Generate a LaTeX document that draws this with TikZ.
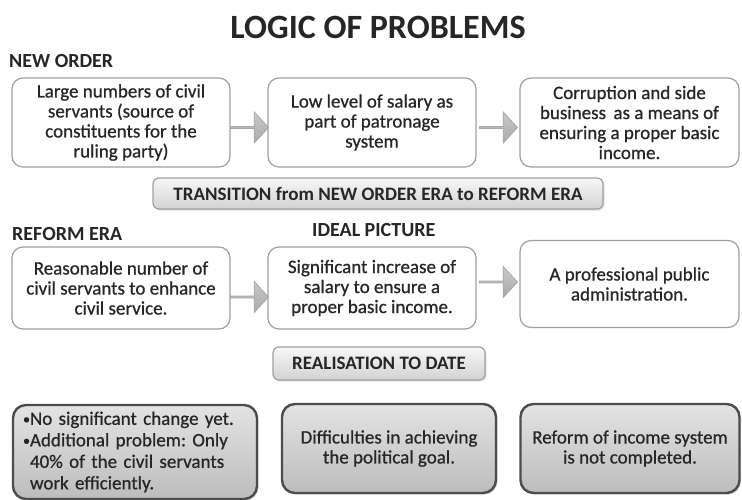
\documentclass[tikz,border=0pt]{standalone}
\usepackage{fontspec}
\setmainfont{Carlito}
\newfontfamily\bodyfont{Carlito}[FakeBold=0.7]
\usetikzlibrary{shapes.arrows,shadows,calc}
\frenchspacing
\definecolor{txt}{HTML}{262626}
\definecolor{edge}{HTML}{A0A0A0}
\definecolor{arrowedge}{HTML}{A8A8A8}
\tikzset{
  box/.style={draw=edge, line width=1.2pt, rounded corners=11pt, fill=white,
    align=center, text=txt, font=\bodyfont\fontsize{19}{20}\selectfont, inner sep=2pt},
  hdr/.style={anchor=west, text=txt, font=\fontsize{20}{22}\selectfont\bfseries, inner sep=0pt},
  band/.style={draw=edge, line width=1.2pt, rounded corners=6pt, top color=gray!6, bottom color=gray!35,
    text=txt, font=\fontsize{19}{20}\selectfont\bfseries,
    drop shadow={opacity=0.25,shadow xshift=1.5pt,shadow yshift=-1.5pt}},
  res/.style={draw=black!70, line width=2.4pt, rounded corners=13pt, top color=gray!22, bottom color=gray!52,
    align=center, text=txt, font=\bodyfont\fontsize{19}{20}\selectfont, inner sep=2pt,
    drop shadow={opacity=0.3,shadow xshift=1.5pt,shadow yshift=-1.5pt}},
  blockarrow/.style={single arrow, draw=arrowedge, line width=0.8pt, top color=gray!42, bottom color=gray!68,
    minimum height=38pt, minimum width=31pt, single arrow head extend=6pt, inner sep=0pt,
    single arrow tip angle=95},
}
\newcommand\blt{\makebox[7pt][l]{\raisebox{1pt}{\scalebox{0.75}{•}}}}
\begin{document}
\begin{tikzpicture}[x=1pt,y=-1pt]
\useasboundingbox (0,0) rectangle (742,499);
\fill[white] (0,0) rectangle (742,499);

\node[text=txt, font=\fontsize{34}{36}\selectfont\bfseries, inner sep=0pt] (title) at (378,27) {LOGIC OF PROBLEMS};

\node[hdr] (hnew) at (9,61) {NEW ORDER};

\node[box, minimum width=218pt, minimum height=89pt] (b1) at (121,122.5)
  {Large numbers of civil\\servants (source of\\constituents for the\\ruling party)};
\node[box, minimum width=208pt, minimum height=89pt] (b2) at (372,122.5)
  {Low level of salary as\\part of patronage\\system};
\node[box, minimum width=219pt, minimum height=89pt] (b3) at (629.5,122.5)
  {Corruption and side\\business \,as a means of\\ensuring a proper basic\\income.};

\node[blockarrow] (a1) at ($(b1.east)!0.5!(b2.west)+(0,5)$) {};
\node[blockarrow] (a2) at ($(b2.east)!0.5!(b3.west)+(0,5)$) {};

\node[band, minimum width=450pt, minimum height=31pt] (trans) at (378,193.5)
  {TRANSITION from NEW ORDER ERA to REFORM ERA};

\node[hdr] (hreform) at (12,234) {REFORM ERA};
\node[hdr] (hideal) at (312,230) {IDEAL PICTURE};

\node[box, minimum width=218pt, minimum height=82pt] (b4) at (121,288)
  {Reasonable number of\\civil servants to enhance\\civil service.};
\node[box, minimum width=208pt, minimum height=82pt] (b5) at (372,288)
  {Significant increase of\\salary to ensure a\\proper basic income.};
\node[box, minimum width=219pt, minimum height=87pt] (b6) at (629.5,284)
  {A professional public\\administration.};

\node[blockarrow] (a3) at ($(b4.east)!0.5!(b5.west)+(0,9)$) {};
\node[blockarrow] (a4) at ($(b5.east)!0.5!(b6.west)+(0,-4)$) {};

\node[band, minimum width=212pt, minimum height=33pt] (real) at (379,363.5)
  {REALISATION TO DATE};

\node[res, minimum width=244pt, minimum height=94pt, align=left, text width=224pt,
  font=\bodyfont\fontsize{19}{21.5}\selectfont] (b7) at (135,452)
  {\blt No significant change yet.\\
   \blt Additional problem: Only\\
   \hspace*{7pt}40\% of the civil servants\\
   \hspace*{7pt}work efficiently.};
\node[res, minimum width=214pt, minimum height=89pt] (b8) at (389,448.5)
  {Difficulties in achieving\\the political goal.};
\node[res, minimum width=219pt, minimum height=89pt] (b9) at (630,448.5)
  {Reform of income system\\is not completed.};
\end{tikzpicture}
\end{document}
